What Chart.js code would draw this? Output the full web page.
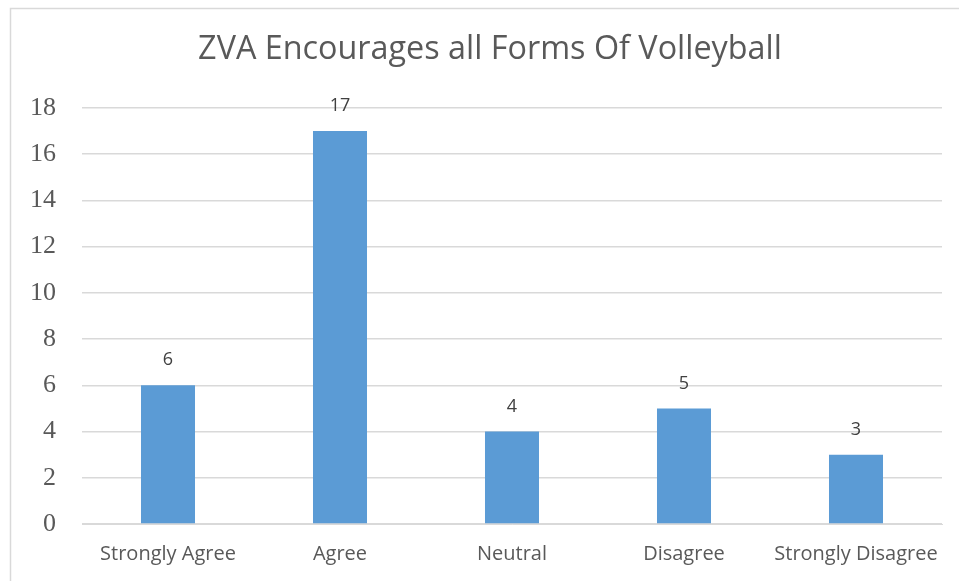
<!DOCTYPE html>
<html>
<head>
<meta charset="utf-8">
<script src="https://cdn.jsdelivr.net/npm/chart.js@4/dist/chart.umd.min.js"></script>
<style>
  html, body { margin: 0; padding: 0; background: #fff; }
  #wrap { width: 959px; height: 581px; position: relative; }
</style>
</head>
<body>
<div id="wrap"><canvas id="chart" width="959" height="581"></canvas></div>
<script>
// data
const chartTitle = 'ZVA Encourages all Forms Of Volleyball';
const categories = ['Strongly Agree', 'Agree', 'Neutral', 'Disagree', 'Strongly Disagree'];
const responses = [6, 17, 4, 5, 3];
const yTicks = [0, 2, 4, 6, 8, 10, 12, 14, 16, 18];

const textGrey = '#595959';
const gridGrey = '#d9d9d9';

// frame + title drawn before the chart, value labels after
const decor = {
  id: 'decor',
  beforeDraw(chart){
    const c = chart.ctx;
    c.save();
    c.fillStyle = '#fff';
    c.fillRect(0, 0, chart.width, chart.height);
    c.strokeStyle = gridGrey;
    c.lineWidth = 1.5;
    c.beginPath();
    c.moveTo(10.5, chart.height + 5);
    c.lineTo(10.5, 8.5);
    c.lineTo(chart.width + 5, 8.5);
    c.stroke();
    // title, sized to span the same width as the reference
    let size = 30;
    c.font = size + 'px "Open Sans"';
    size = size * 584 / c.measureText(chartTitle).width;
    c.font = size + 'px "Open Sans"';
    c.fillStyle = textGrey;
    c.textAlign = 'center';
    c.textBaseline = 'middle';
    c.fillText(chartTitle, 490, 50);
    c.restore();
  },
  afterDatasetsDraw(chart){
    const c = chart.ctx;
    const meta = chart.getDatasetMeta(0);
    c.save();
    c.font = '18px "Open Sans"';
    c.fillStyle = '#404040';
    c.textAlign = 'center';
    c.textBaseline = 'middle';
    meta.data.forEach((bar, i) => {
      c.fillText(responses[i], bar.x, bar.y - 25);
    });
    c.restore();
  }
};

new Chart(document.getElementById('chart'), {
  type: 'bar',
  data: {
    labels: categories,
    datasets: [{
      data: responses,
      backgroundColor: '#5b9bd5',
      borderWidth: 0,
      categoryPercentage: 1,
      barPercentage: 0.314
    }]
  },
  options: {
    responsive: false,
    animation: false,
    layout: { padding: { top: 108, right: 17, left: 0, bottom: 0 } },
    plugins: {
      legend: { display: false },
      tooltip: { enabled: false },
      title: { display: false }
    },
    scales: {
      x: {
        grid: { display: false, drawTicks: false },
        border: { color: gridGrey, width: 1 },
        ticks: {
          color: textGrey,
          font: { family: '"Open Sans"', size: 20 },
          padding: 18,
          maxRotation: 0
        },
        afterFit(scale){ scale.height = 57; }
      },
      y: {
        min: 0,
        max: 18,
        afterBuildTicks(scale){ scale.ticks = yTicks.map(v => ({ value: v })); },
        grid: { color: gridGrey, lineWidth: 1.5, drawTicks: false },
        border: { display: false },
        ticks: {
          color: textGrey,
          font: { family: '"Liberation Serif"', size: 26 },
          padding: 26
        },
        afterFit(scale){ scale.width = 82; }
      }
    }
  },
  plugins: [decor]
});
</script>
</body>
</html>
